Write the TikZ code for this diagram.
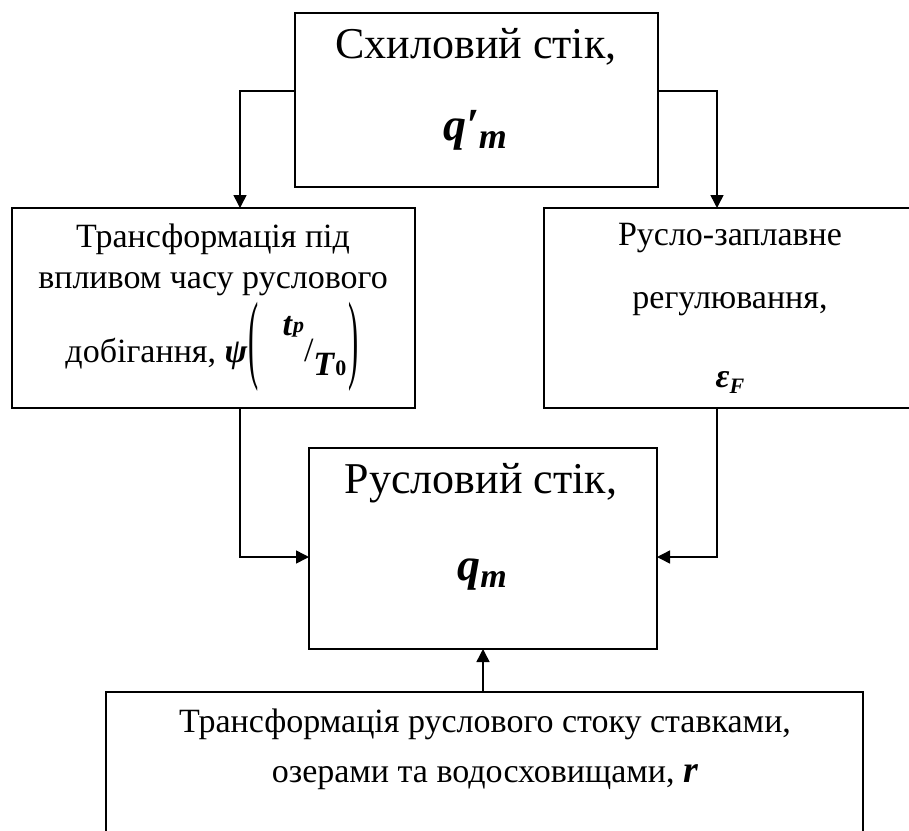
\documentclass[tikz,border=0pt]{standalone}
\usepackage{fontspec}
\usepackage{graphicx}
\setmainfont{Liberation Serif}
\usetikzlibrary{arrows.meta}
\newcommand\bi[1]{\textbf{\textit{#1}}}
\newcommand\fsz[1]{\fontsize{#1}{#1}\selectfont}
\newcommand\bigparen[1]{\raisebox{-8.6pt}{\scalebox{0.9}[2.9]{#1}}}
\begin{document}
\begin{tikzpicture}[x=1pt,y=-1pt,
  box/.style={draw=black, line width=1.6pt, inner sep=0pt, outer sep=0pt},
  conn/.style={draw=black, line width=1.5pt, -{Triangle[length=13pt,width=13pt]}},
  txt/.style={inner sep=0pt, anchor=base},
  big/.style={txt, font=\fsz{44}},
  body/.style={txt, font=\fsz{34}}]
\useasboundingbox (0,0) rectangle (909,830);
\clip (0,0) rectangle (909,830);
\fill[white] (0,0) rectangle (909,830);
% boxes
\node[box, minimum width=363pt, minimum height=174pt] (top) at (476.5,100) {};
\node[box, minimum width=403pt, minimum height=200pt] (left) at (213.5,308) {};
\node[box, minimum width=380pt, minimum height=200pt] (right) at (734,308) {};
\node[box, minimum width=348pt, minimum height=201pt] (mid) at (483,548.5) {};
\node[box, minimum width=757pt, minimum height=153pt] (bot) at (484.5,768.5) {};
% texts
\node[big] (t1) at (476,58) {Схиловий стік,};
\node[txt, font=\fsz{46}] (t2) at (475,140) {\bi{q}\bi{′}\raisebox{-8pt}{\fsz{36}\bi{m}}};
\node[body] (l1) at (213,247) {Трансформація під};
\node[body] (l2) at (213,288) {впливом часу руслового};
\node[body] (l3) at (212,362) {добігання, \bi{ψ}\hspace{1pt}\bigparen{(}\hspace{24pt}\raisebox{27pt}{\bi{t}\raisebox{3pt}{\fsz{22}\bi{p}}}\raisebox{1pt}{/}\raisebox{-13pt}{\bi{T}\fsz{22}\textbf{0}}\hspace{2pt}\bigparen{)}};
\node[body] (r1) at (730,245) {Русло-заплавне};
\node[body] (r2) at (730,308) {регулювання,};
\node[body] (r3) at (730,387) {\bi{ε}\raisebox{-6pt}{\fsz{22}\bi{F}}};
\node[big] (m1) at (481,493) {Русловий стік,};
\node[txt, font=\fsz{46}] (m2) at (482,580) {\bi{q}\raisebox{-7pt}{\fsz{34}\bi{m}}};
\node[body] (b1) at (485,732) {Трансформація руслового стоку ставками,};
\node[body] (b2) at (485,782) {озерами та водосховищами, {\fsz{38}\bi{r}}};
% connectors
\coordinate (aL) at (240,91);
\coordinate (aR) at (717,91);
\coordinate (bL) at (240,557);
\coordinate (bR) at (717,557);
\draw[conn] (aL -| top.west) -- (aL) -- (aL |- left.north);
\draw[conn] (aR -| top.east) -- (aR) -- (aR |- right.north);
\draw[conn] (bL |- left.south) -- (bL) -- (bL -| mid.west);
\draw[conn] (bR |- right.south) -- (bR) -- (bR -| mid.east);
\draw[conn] (mid.south |- bot.north) -- (mid.south);
\end{tikzpicture}
\end{document}
